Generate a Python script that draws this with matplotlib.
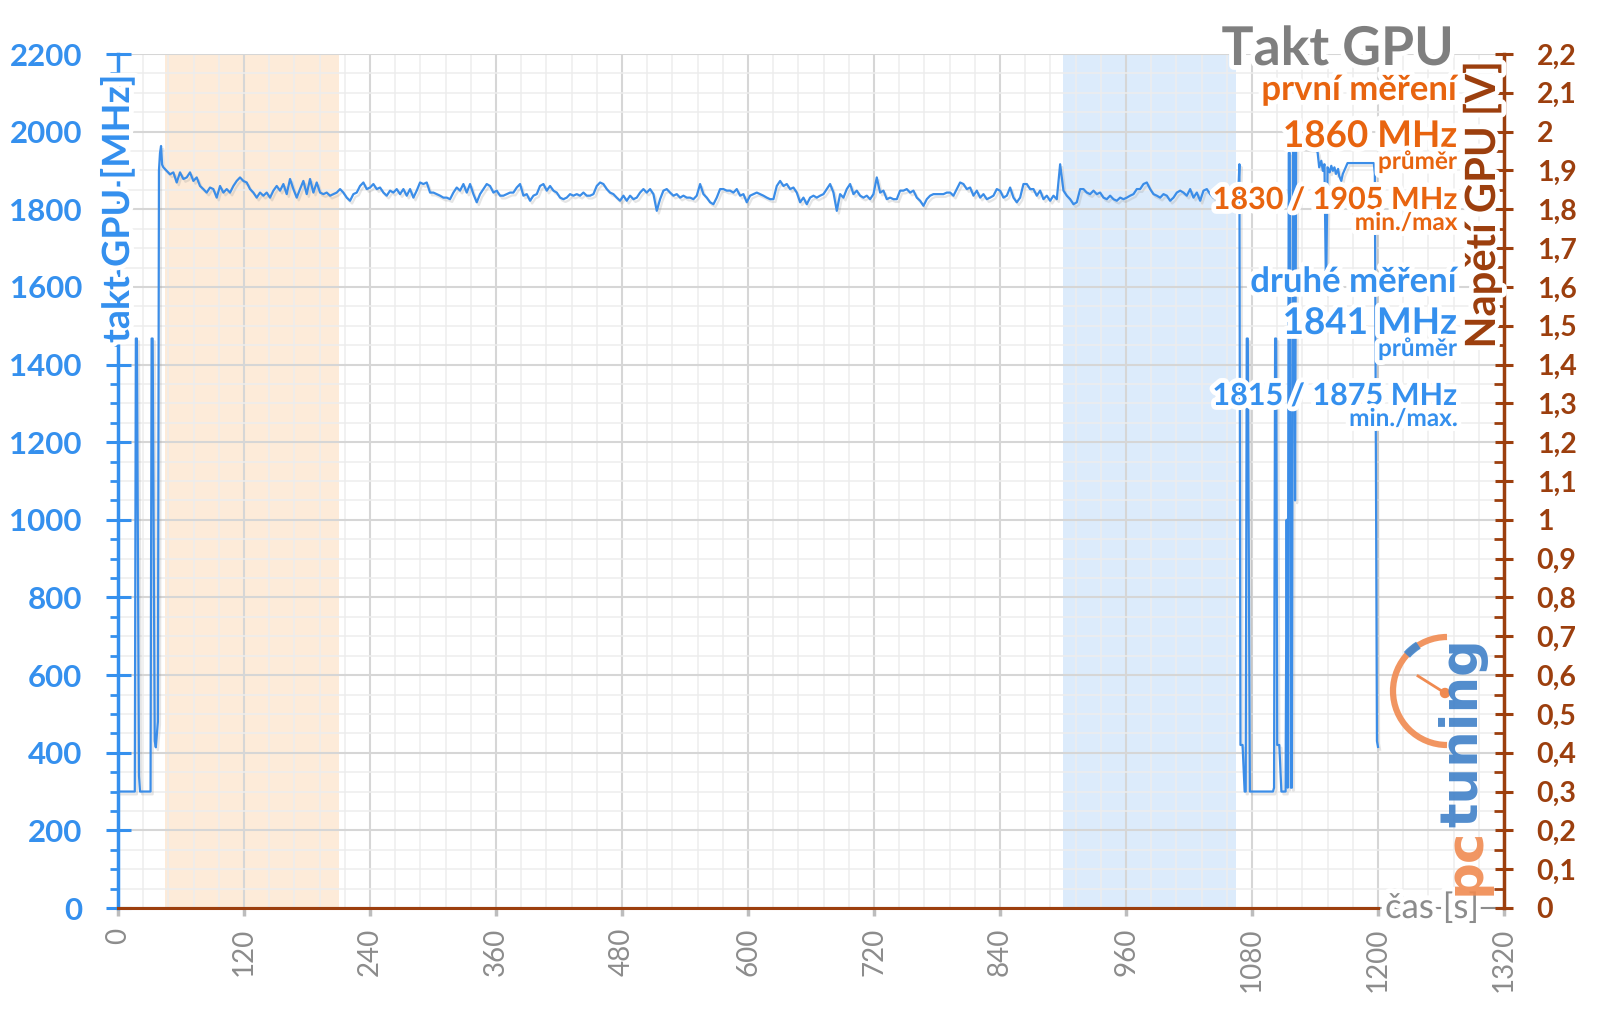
import numpy as np
import matplotlib.pyplot as plt
from matplotlib import patheffects as pe
from matplotlib.patches import Arc, Circle
from matplotlib.ticker import MultipleLocator, FuncFormatter

plt.rcParams['font.family'] = ['Lato', 'DejaVu Sans']

BLUE = '#3590EE'
LINE = '#3B8DE8'
BROWN = '#9C3F0E'
ORANGE = '#E8640F'
GRAY = '#8C8C8C'

# idle at 300 MHz, two short spikes, then the load starts
start_t = [0, 16, 17, 18, 20, 21, 31, 32, 33, 35, 36, 38, 39, 40, 41, 42]
start_mhz = [300, 300, 1467, 1467, 340, 300, 300, 1467, 1467, 430, 414, 480, 1900, 1945, 1963, 1915]

# steady part, every ~3.2 s
step = 3.175
steady_t0 = 43.2
steady_mhz = [
    1908, 1899, 1890, 1895, 1869, 1895, 1878, 1882, 1895, 1873, 1882, 1860, 1852, 1843, 1856, 1852,
    1830, 1860, 1843, 1852, 1843, 1860, 1873, 1882, 1873, 1869, 1852, 1843, 1830, 1843, 1835, 1843,
    1830, 1848, 1860, 1848, 1865, 1839, 1878, 1852, 1830, 1852, 1873, 1839, 1878, 1843, 1869, 1843,
    1839, 1843, 1835, 1839, 1843, 1852, 1843, 1830, 1822, 1839, 1843, 1860, 1869, 1852, 1856, 1865,
    1852, 1856, 1843, 1835, 1848, 1843, 1852, 1839, 1852, 1835, 1852, 1830, 1848, 1869, 1865, 1869,
    1843, 1843, 1839, 1835, 1830, 1830, 1826, 1843, 1856, 1848, 1865, 1843, 1865,
    1839, 1818, 1839, 1852, 1865, 1860, 1843, 1848, 1835, 1835, 1839, 1843, 1843, 1856, 1865, 1835,
    1839, 1822, 1835, 1839, 1860, 1865, 1848, 1860, 1848, 1843, 1830, 1826, 1830, 1839, 1835, 1839,
    1835, 1843, 1835, 1835, 1839, 1860, 1869, 1865, 1852, 1843, 1839, 1830, 1822, 1835, 1822, 1835,
    1826, 1830, 1843, 1852, 1843, 1852, 1839, 1796, 1826, 1848, 1852, 1843, 1835, 1839, 1830, 1835,
    1830, 1830, 1826, 1835, 1865, 1839, 1830, 1818, 1813, 1830, 1852, 1852, 1848, 1848, 1843, 1852,
    1835, 1839, 1818, 1835, 1839, 1843, 1839, 1835, 1830, 1826, 1826, 1860, 1873,
    1860, 1865, 1852, 1856, 1843, 1818, 1830, 1813, 1830, 1835, 1830, 1835, 1839, 1852, 1865, 1843,
    1796, 1839, 1830, 1852, 1865, 1839, 1848, 1835, 1830, 1835, 1826, 1839, 1882, 1843, 1848, 1826,
    1830, 1826, 1826, 1848, 1848, 1852, 1843, 1848, 1830, 1822, 1809, 1826, 1835, 1839, 1839, 1839,
    1839, 1843, 1843, 1835, 1852, 1869, 1865, 1852, 1856, 1835, 1848, 1830, 1839, 1826, 1830, 1835,
    1852, 1848, 1830, 1835, 1856, 1830, 1818, 1830, 1865, 1865, 1852, 1852, 1835, 1848, 1826, 1835,
    1822, 1835, 1826, 1916, 1848, 1835, 1826, 1813, 1818, 1852, 1852, 1843, 1839,
    1848, 1839, 1843, 1830, 1826, 1835, 1826, 1822, 1830, 1826, 1830, 1835, 1839, 1852, 1852, 1865,
    1869, 1852, 1839, 1835, 1830, 1839, 1835, 1822, 1830, 1843, 1848, 1843, 1835, 1852, 1830, 1843,
    1822, 1848, 1852, 1839, 1830, 1843, 1835, 1848, 1839, 1830, 1843, 1848,
]

# end of the run, second start and the drop at 1200 s
end_t = [1067, 1068, 1069, 1071, 1073, 1074, 1075, 1076, 1078, 1100, 1101, 1102, 1103, 1104, 1106,
         1108, 1112, 1113, 1114, 1115, 1116, 1117, 1118, 1119, 1120, 1121, 1122, 1124, 1141,
         1142.5, 1144, 1146, 1147.5, 1149, 1150.5, 1152, 1154, 1155.5, 1157, 1158.5, 1160, 1162,
         1163, 1165, 1166.5, 1171, 1196, 1197, 1199, 1200]
end_mhz = [1848, 1916, 420, 420, 300, 300, 1467, 1467, 300, 300, 310, 1467, 1467, 420, 420,
           300, 300, 1000, 310, 1945, 1945, 310, 310, 1950, 1950, 1050, 1955, 1960, 1955,
           1946, 1908, 1925, 1899, 1916, 1583, 1908, 1895, 1912, 1899, 1908, 1891, 1904,
           1886, 1873, 1891, 1919, 1919, 1891, 430, 415]

volt_t = [0, 1200]
volt = [0, 0]

steady_t = steady_t0 + step * np.arange(len(steady_mhz))
t = np.concatenate([start_t, steady_t, end_t])
mhz = np.concatenate([start_mhz, steady_mhz, end_mhz])

fig = plt.figure(figsize=(16, 10.09), dpi=100)
ax = fig.add_axes([118 / 1600, 1 - 908 / 1009, 1386 / 1600, 854 / 1009])

ax.axvspan(45, 210, color='#FDEBD9', lw=0, zorder=0)
ax.axvspan(900, 1065, color='#DCEBFB', lw=0, zorder=0)

ax.plot(t, mhz, color=LINE, lw=1.6, zorder=3,
        path_effects=[pe.SimpleLineShadow(offset=(1.5, -2), shadow_color='#999999', alpha=0.25),
                      pe.Normal()])

ax.set_xlim(0, 1320)
ax.set_ylim(0, 2200)
ax.xaxis.set_major_locator(MultipleLocator(120))
ax.xaxis.set_minor_locator(MultipleLocator(24))
ax.yaxis.set_major_locator(MultipleLocator(200))
ax.yaxis.set_minor_locator(MultipleLocator(50))
ax.grid(which='major', color='#D6D6D6', lw=1.5)
ax.grid(which='minor', color='#EDEDED', lw=1.1)

for s in ['top', 'right']:
    ax.spines[s].set_visible(False)
ax.spines['left'].set_color(BLUE)
ax.spines['left'].set_linewidth(2.5)
ax.spines['bottom'].set_color(GRAY)
ax.spines['bottom'].set_linewidth(1.5)

ax.tick_params(axis='y', which='major', direction='inout', length=18, width=2.2, color=BLUE,
               labelcolor=BLUE, labelsize=22.5, pad=17)
ax.tick_params(axis='y', which='minor', direction='out', length=6, width=2, color=BLUE)
for lab in ax.get_yticklabels():
    lab.set_fontweight('bold')
ax.tick_params(axis='x', which='major', direction='out', length=6, width=2.5, color='#BDBDBD',
               labelcolor=GRAY, labelsize=20, pad=8, labelrotation=90)
ax.tick_params(axis='x', which='minor', length=0)

ax2 = ax.twinx()
ax2.plot(volt_t, volt, color=BROWN, lw=2.2, zorder=4, clip_on=False)
ax2.set_ylim(0, 2.2)
ax2.yaxis.set_major_locator(MultipleLocator(0.1))
ax2.yaxis.set_minor_locator(MultipleLocator(0.05))
ax2.yaxis.set_major_formatter(FuncFormatter(lambda v, p: f'{v:.1f}'.replace('.', ',').replace(',0', '')))
for s in ['top', 'left', 'bottom']:
    ax2.spines[s].set_visible(False)
ax2.spines['right'].set_color(BROWN)
ax2.spines['right'].set_linewidth(2.5)
ax2.tick_params(axis='y', which='major', direction='inout', length=13, width=2.2, color=BROWN,
                labelcolor=BROWN, labelsize=20.5, pad=17)
ax2.tick_params(axis='y', which='minor', direction='in', length=7, width=2, color=BROWN)
for lab in ax2.get_yticklabels():
    lab.set_fontweight('bold')

# overlay in pixel coordinates for texts and logo
ov = fig.add_axes([0, 0, 1, 1], zorder=10)
ov.set_xlim(0, 1600)
ov.set_ylim(1009, 0)
ov.axis('off')

glow = [pe.withStroke(linewidth=7, foreground='white')]


def label(x, y, s, size, color, ha='right', va='baseline', rot=0, weight='bold'):
    ov.text(x, y, s, fontsize=size, color=color, fontweight=weight, ha=ha, va=va,
            rotation=rot, path_effects=glow)


label(1454, 65, 'Takt GPU', 38.5, '#7F7F7F')
label(1457, 100, 'první měření', 25, ORANGE)
label(1457, 147, '1860 MHz', 26.5, ORANGE)
label(1457, 169, 'průměr', 17.5, ORANGE)
label(1457, 209, '1830 / 1905 MHz', 22, ORANGE)
label(1457, 230, 'min./max', 17.5, ORANGE)
label(1457, 292, 'druhé měření', 25, BLUE)
label(1457, 334, '1841 MHz', 26.5, BLUE)
label(1457, 356, 'průměr', 17.5, BLUE)
label(1457, 405, '1815 / 1875 MHz', 22, BLUE)
label(1457, 426, 'min./max.', 17.5, BLUE)

label(117, 209, 'takt GPU [MHz]', 27, BLUE, ha='center', va='center', rot=90)
label(1482, 205, 'Napětí GPU [V]', 30, BROWN, ha='center', va='center', rot=90)
label(1432, 908, 'čas [s]', 25, GRAY, ha='center', va='center', weight='normal')

# pctuning logo
ov.add_patch(Arc((1447, 691), 108, 108, theta1=90, theta2=270, color='#F08A50', lw=4.5, alpha=0.9))
ov.add_patch(Arc((1447, 691), 108, 108, theta1=222, theta2=238, color='#3F86CF', lw=6, alpha=0.9))
ov.plot([1418, 1445], [676, 693], color='#F08A50', lw=2)
ov.add_patch(Circle((1445, 693), 4.5, color='#F08A50'))
ov.text(1466, 895, 'pc', rotation=90, color='#F08A50', fontsize=37, ha='center', va='bottom',
        family='DejaVu Sans', fontweight='bold', alpha=0.9)
ov.text(1463, 827, 'tuning', rotation=90, color='#3F80C8', fontsize=37, ha='center', va='bottom',
        family='DejaVu Sans', fontweight='bold', alpha=0.9)

fig.savefig('out.png', dpi=100)
